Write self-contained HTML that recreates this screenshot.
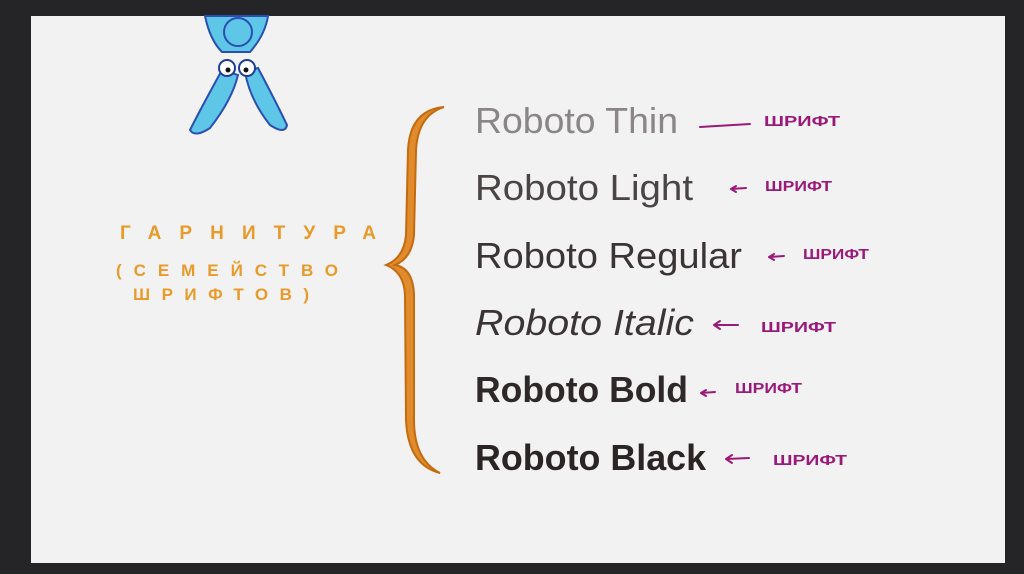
<!DOCTYPE html>
<html><head><meta charset="utf-8"><style>
html,body{margin:0;padding:0;background:#252527;}
svg{display:block}
</style></head><body>
<svg width="1024" height="574" viewBox="0 0 1024 574" xmlns="http://www.w3.org/2000/svg">
<rect width="1024" height="574" fill="#252527"/>
<rect x="31" y="16" width="974" height="547" fill="#f2f2f2"/>
<!-- creature -->
<g stroke="#2a4fb0" stroke-width="2" fill="#5ec6e6">
<path d="M205 16 Q210 40 222 52 L250 52 Q265 35 268 16 Z"/>
<circle cx="238" cy="32" r="14"/>
<path d="M222 70 Q200 110 190 130 Q195 138 210 128 Q232 100 238 75 Z"/>
<path d="M245 72 Q250 100 270 125 Q285 135 287 125 Q275 100 258 68 Z"/>
</g>
<g stroke="#1f3c9a" stroke-width="2" fill="#fff">
<circle cx="227" cy="68" r="8"/><circle cx="247" cy="68" r="8"/>
</g>
<circle cx="228" cy="70" r="2.5" fill="#111"/><circle cx="246" cy="70" r="2.5" fill="#111"/>
<!-- brace -->
<path d="M444 107 Q410 110 408 150 L406 235 Q404 258 386 265 Q404 272 405 295 L406 420 Q408 465 440 473 Q414 460 414 420 L414 295 Q413 268 395 265 Q412 258 414 235 L416 150 Q418 115 444 107 Z" fill="#e08c2c" stroke="#c46a10" stroke-width="2"/>
<!-- orange label -->
<g fill="#e89a2a" font-family="Liberation Sans, sans-serif" font-weight="bold">
<text x="120" y="239" font-size="19" textLength="256" lengthAdjust="spacing">ГАРНИТУРА</text>
<text x="116" y="276" font-size="17" textLength="222" lengthAdjust="spacing">(СЕМЕЙСТВО</text>
<text x="133" y="300" font-size="17" textLength="176" lengthAdjust="spacing">ШРИФТОВ)</text>
</g>
<!-- fonts -->
<g font-family="Liberation Sans, sans-serif" font-size="36" lengthAdjust="spacingAndGlyphs">
<text x="475" y="133" fill="#8a8586" font-weight="300" textLength="203" lengthAdjust="spacingAndGlyphs">Roboto Thin</text>
<text x="475" y="200" fill="#4a4445" textLength="218" lengthAdjust="spacingAndGlyphs">Roboto Light</text>
<text x="475" y="268" fill="#3a3435" textLength="267" lengthAdjust="spacingAndGlyphs">Roboto Regular</text>
<text x="475" y="335" fill="#3a3435" font-style="italic" textLength="219" lengthAdjust="spacingAndGlyphs">Roboto Italic</text>
<text x="475" y="402" fill="#2e2829" font-weight="bold" textLength="213" lengthAdjust="spacingAndGlyphs">Roboto Bold</text>
<text x="475" y="470" fill="#2a2425" font-weight="bold" textLength="231" lengthAdjust="spacingAndGlyphs">Roboto Black</text>
</g>
<!-- arrows and labels -->
<g stroke="#9a1a7a" stroke-width="2" fill="none" stroke-linecap="round">
<path d="M700 127 L750 124"/>
<path d="M731 189 L746 188 M731 189 l5 -3 M731 189 l5 3"/>
<path d="M769 257 L784 256 M769 257 l5 -3 M769 257 l5 3"/>
<path d="M714 325 L738 325 M714 325 l6 -4 M714 325 l6 4"/>
<path d="M701 393 L715 392 M701 393 l5 -3 M701 393 l5 3"/>
<path d="M726 459 L749 458 M726 459 l6 -4 M726 459 l6 4"/>
</g>
<g fill="#9a1a7a" font-family="Liberation Sans, sans-serif" font-weight="bold" font-size="15">
<text x="764" y="126" textLength="76" lengthAdjust="spacingAndGlyphs">ШРИФТ</text>
<text x="765" y="191" textLength="67" lengthAdjust="spacingAndGlyphs">ШРИФТ</text>
<text x="803" y="259" textLength="66" lengthAdjust="spacingAndGlyphs">ШРИФТ</text>
<text x="761" y="332" textLength="75" lengthAdjust="spacingAndGlyphs">ШРИФТ</text>
<text x="735" y="393" textLength="67" lengthAdjust="spacingAndGlyphs">ШРИФТ</text>
<text x="773" y="465" textLength="74" lengthAdjust="spacingAndGlyphs">ШРИФТ</text>
</g>
</svg>
</body></html>
